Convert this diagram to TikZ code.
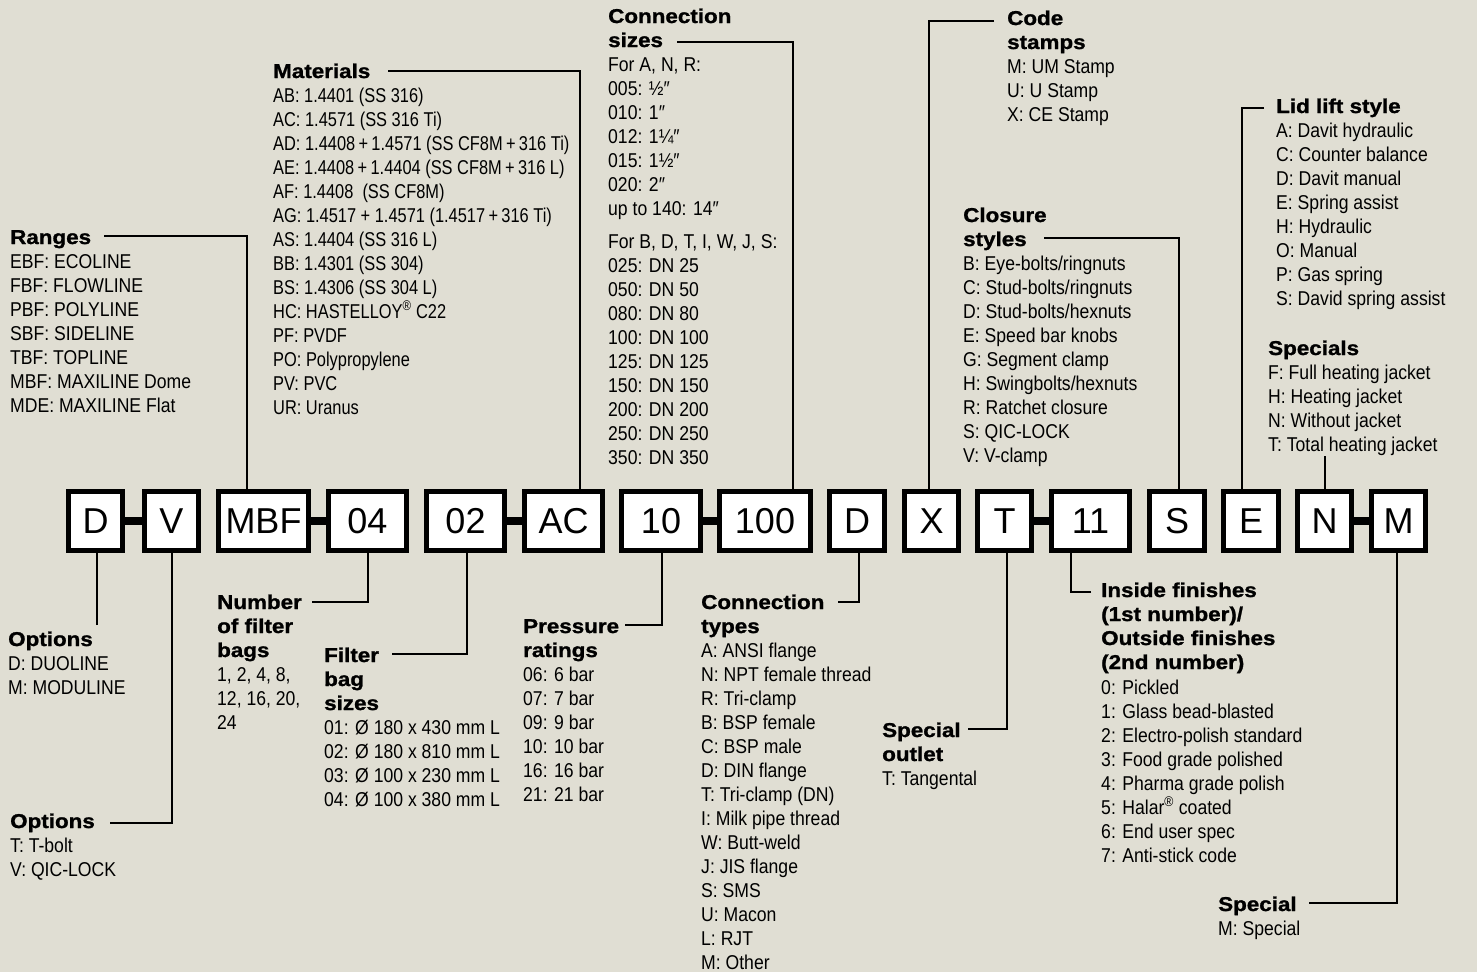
\documentclass[tikz,border=0pt]{standalone}
\usepackage{fontspec}
\setmainfont{Liberation Sans}
\newfontfamily\itemfont[FakeStretch=0.88]{Liberation Sans}
\newfontfamily\matfont[FakeStretch=0.82]{Liberation Sans}
\newfontfamily\headfont[FakeStretch=1.12,BoldFeatures={FakeBold=1.2}]{Liberation Sans}
\usepackage{tikz}
\definecolor{bgbeige}{RGB}{224,222,211}

\begin{document}
\begin{tikzpicture}[x=1pt,y=-1pt,
  codebox/.style={draw,line width=5pt,fill=white,minimum height=59pt,inner sep=0pt,font=\fontsize{36}{36}\selectfont},
  headtxt/.style={anchor=base west,inner sep=0pt,align=left,font=\headfont\bfseries\fontsize{20}{24}\selectfont},
  listtxt/.style={anchor=base west,inner sep=0pt,align=left,font=\itemfont\fontsize{20}{24}\selectfont},
  leader/.style={line width=1.4pt},
  joint/.style={line width=8pt}]

\fill[bgbeige] (0,0) rectangle (1477,972);
\useasboundingbox (0,0) rectangle (1477,972);

% code boxes
\node[codebox,minimum width=54pt] (bD) at (95.5,521) {D};
\node[codebox,minimum width=54pt] (bV) at (171.5,521) {V};
\node[codebox,minimum width=90pt] (bMBF) at (263.5,521) {MBF};
\node[codebox,minimum width=78pt] (b04) at (367.5,521) {04};
\node[codebox,minimum width=78pt] (b02) at (465.5,521) {02};
\node[codebox,minimum width=78pt] (bAC) at (563.5,521) {AC};
\node[codebox,minimum width=79pt] (b10) at (661,521) {10};
\node[codebox,minimum width=91pt] (b100) at (765,521) {100};
\node[codebox,minimum width=55pt] (bD2) at (857,521) {D};
\node[codebox,minimum width=54pt] (bX) at (931.5,521) {X};
\node[codebox,minimum width=54pt] (bT) at (1004.5,521) {T};
\node[codebox,minimum width=78pt] (b11) at (1090.5,521) {11};
\node[codebox,minimum width=55pt] (bS) at (1177,521) {S};
\node[codebox,minimum width=55pt] (bE) at (1251,521) {E};
\node[codebox,minimum width=54pt] (bN) at (1324.5,521) {N};
\node[codebox,minimum width=54pt] (bM) at (1398.5,521) {M};

\draw[joint] (bD.east) -- (bV.west);
\draw[joint] (bMBF.east) -- (b04.west);
\draw[joint] (b02.east) -- (bAC.west);
\draw[joint] (b10.east) -- (b100.west);
\draw[joint] (bT.east) -- (b11.west);
\draw[joint] (bN.east) -- (bM.west);

% upper legends
\node[headtxt] (hRanges) at (10,244) {Ranges};
\node[listtxt] (lRanges) at (10,412) {EBF: ECOLINE\\FBF: FLOWLINE\\PBF: POLYLINE\\SBF: SIDELINE\\TBF: TOPLINE\\MBF: MAXILINE Dome\\MDE: MAXILINE Flat};
\coordinate (cRanges) at (104,236);
\coordinate (kRanges) at (247,236);
\draw[leader] (cRanges) -- (kRanges) -- (kRanges |- bMBF.north);

\node[headtxt] (hMat) at (273,78) {Materials};
\node[listtxt,font=\matfont\fontsize{20}{24}\selectfont] (lMat) at (273,414) {AB: 1.4401 (SS 316)\\AC: 1.4571 (SS 316 Ti)\\AD: 1.4408\,+\,1.4571 (SS CF8M\,+\,316 Ti)\\AE: 1.4408\,+\,1.4404 (SS CF8M\,+\,316 L)\\AF: 1.4408 \ (SS CF8M)\\AG: 1.4517 + 1.4571 (1.4517\,+\,316 Ti)\\AS: 1.4404 (SS 316 L)\\BB: 1.4301 (SS 304)\\BS: 1.4306 (SS 304 L)\\HC: HASTELLOY\textsuperscript{®} C22\\PF: PVDF\\PO: Polypropylene\\PV: PVC\\UR: Uranus};
\coordinate (cMat) at (388,71);
\coordinate (kMat) at (580,71);
\draw[leader] (cMat) -- (kMat) -- (kMat |- bAC.north);

\node[headtxt] (hCsize) at (608,47) {Connection\\sizes};
\node[listtxt] (lCsize) at (608,464) {For A, N, R:\\005: ½″\\010: 1″\\012: 1¼″\\015: 1½″\\020: 2″\\up to 140: 14″\\[9pt]For B, D, T, I, W, J, S:\\025: DN 25\\050: DN 50\\080: DN 80\\100: DN 100\\125: DN 125\\150: DN 150\\200: DN 200\\250: DN 250\\350: DN 350};
\coordinate (cCsize) at (677,42);
\coordinate (kCsize) at (793,42);
\draw[leader] (cCsize) -- (kCsize) -- (kCsize |- b100.north);

\node[headtxt] (hStamp) at (1007,49) {Code\\stamps};
\node[listtxt] (lStamp) at (1007,121) {M: UM Stamp\\U: U Stamp\\X: CE Stamp};
\coordinate (cStamp) at (994,21);
\coordinate (kStamp) at (929,21);
\draw[leader] (cStamp) -- (kStamp) -- (kStamp |- bX.north);

\node[headtxt] (hClos) at (963,246) {Closure\\styles};
\node[listtxt] (lClos) at (963,462) {B: Eye-bolts/ringnuts\\C: Stud-bolts/ringnuts\\D: Stud-bolts/hexnuts\\E: Speed bar knobs\\G: Segment clamp\\H: Swingbolts/hexnuts\\R: Ratchet closure\\S: QIC-LOCK\\V: V-clamp};
\coordinate (cClos) at (1044,238);
\coordinate (kClos) at (1179,238);
\draw[leader] (cClos) -- (kClos) -- (kClos |- bS.north);

\node[headtxt] (hLid) at (1276,113) {Lid lift style};
\node[listtxt] (lLid) at (1276,305) {A: Davit hydraulic\\C: Counter balance\\D: Davit manual\\E: Spring assist\\H: Hydraulic\\O: Manual\\P: Gas spring\\S: David spring assist};
\coordinate (cLid) at (1264,108);
\coordinate (kLid) at (1242,108);
\draw[leader] (cLid) -- (kLid) -- (kLid |- bE.north);

\node[headtxt] (hSpecs) at (1268,355) {Specials};
\node[listtxt] (lSpecs) at (1268,451) {F: Full heating jacket\\H: Heating jacket\\N: Without jacket\\T: Total heating jacket};
\coordinate (cSpecs) at (1325,456);
\draw[leader] (cSpecs) -- (cSpecs |- bN.north);

% lower legends
\node[headtxt] (hOptD) at (8,646) {Options};
\node[listtxt] (lOptD) at (8,694) {D: DUOLINE\\M: MODULINE};
\coordinate (cOptD) at (97,625);
\draw[leader] (cOptD) -- (cOptD |- bD.south);

\node[headtxt] (hOptV) at (10,828) {Options};
\node[listtxt] (lOptV) at (10,876) {T: T-bolt\\V: QIC-LOCK};
\coordinate (cOptV) at (110,823);
\coordinate (kOptV) at (172,823);
\draw[leader] (cOptV) -- (kOptV) -- (kOptV |- bV.south);

\node[headtxt] (hNum) at (217,657) {Number\\of filter\\bags};
\node[listtxt] (lNum) at (217,729) {1, 2, 4, 8,\\12, 16, 20,\\24};
\coordinate (cNum) at (312,602);
\coordinate (kNum) at (368,602);
\draw[leader] (cNum) -- (kNum) -- (kNum |- b04.south);

\node[headtxt] (hFbag) at (324,710) {Filter\\bag\\sizes};
\node[listtxt] (lFbag) at (324,806) {01: Ø 180 x 430 mm L\\02: Ø 180 x 810 mm L\\03: Ø 100 x 230 mm L\\04: Ø 100 x 380 mm L};
\coordinate (cFbag) at (392,654);
\coordinate (kFbag) at (467,654);
\draw[leader] (cFbag) -- (kFbag) -- (kFbag |- b02.south);

\node[headtxt] (hPress) at (523,657) {Pressure\\ratings};
\node[listtxt] (lPress) at (523,801) {06: 6 bar\\07: 7 bar\\09: 9 bar\\10: 10 bar\\16: 16 bar\\21: 21 bar};
\coordinate (cPress) at (625,625);
\coordinate (kPress) at (662,625);
\draw[leader] (cPress) -- (kPress) -- (kPress |- b10.south);

\node[headtxt] (hCtype) at (701,633) {Connection\\types};
\node[listtxt] (lCtype) at (701,969) {A: ANSI flange\\N: NPT female thread\\R: Tri-clamp\\B: BSP female\\C: BSP male\\D: DIN flange\\T: Tri-clamp (DN)\\I: Milk pipe thread\\W: Butt-weld\\J: JIS flange\\S: SMS\\U: Macon\\L: RJT\\M: Other};
\coordinate (cCtype) at (838,602);
\coordinate (kCtype) at (859,602);
\draw[leader] (cCtype) -- (kCtype) -- (kCtype |- bD2.south);

\node[headtxt] (hOutlet) at (882,761) {Special\\outlet};
\node[listtxt] (lOutlet) at (882,785) {T: Tangental};
\coordinate (cOutlet) at (968,729);
\coordinate (kOutlet) at (1007,729);
\draw[leader] (cOutlet) -- (kOutlet) -- (kOutlet |- bT.south);

\node[headtxt] (hFin) at (1101,669) {Inside finishes\\(1st number)/\\Outside finishes\\(2nd number)};
\node[listtxt] (lFin) at (1101,862) {0: Pickled\\1: Glass bead-blasted\\2: Electro-polish standard\\3: Food grade polished\\4: Pharma grade polish\\5: Halar\textsuperscript{®} coated\\6: End user spec\\7: Anti-stick code};
\coordinate (cFin) at (1091,592);
\coordinate (kFin) at (1071,592);
\draw[leader] (cFin) -- (kFin) -- (kFin |- b11.south);

\node[headtxt] (hSpec) at (1218,911) {Special};
\node[listtxt] (lSpec) at (1218,935) {M: Special};
\coordinate (cSpec) at (1309,903);
\coordinate (kSpec) at (1397,903);
\draw[leader] (cSpec) -- (kSpec) -- (kSpec |- bM.south);
\end{tikzpicture}
\end{document}
